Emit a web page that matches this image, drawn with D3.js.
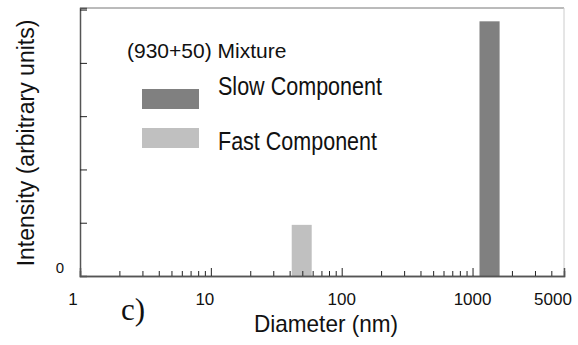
<!DOCTYPE html>
<html>
<head>
<meta charset="UTF-8">
<title>Mixture size distribution</title>
<script src="https://d3js.org/d3.v7.min.js"></script>
<style>
  body { margin: 0; background: #fff; }
  text { font-family: "Liberation Sans", Arial, Helvetica, sans-serif; fill: #111; }
</style>
</head>
<body>
<div id="chart"></div>
<script>
// data
var components = ["Slow Component", "Fast Component"];
var binLow  = [1130, 41.5];   // nm, lower edge of each bar
var binHigh = [1610, 59];     // nm, upper edge
var intensity = [4.78, 0.96]; // arbitrary units
var barColors = ["#808080", "#c0c0c0"];
var xTickValues = [1, 10, 100, 1000, 5000];
var xTickLabels = ["1", "10", "100", "1000", "5000"];
var yTickValues = [0, 1, 2, 3, 4, 5];
var title = "(930+50) Mixture";

var width = 578, height = 345;
var margin = {top: 8, right: 14, bottom: 69, left: 80};

var svg = d3.select("#chart").append("svg")
    .attr("width", width)
    .attr("height", height);

var x = d3.scaleLog()
    .domain([1, 5000])
    .range([margin.left, width - margin.right]);
var y = d3.scaleLinear()
    .domain([0, 5.03])
    .range([height - margin.bottom, margin.top]);

// frame (top dark-ish, right light)
svg.append("line")
    .attr("x1", margin.left).attr("x2", width - margin.right)
    .attr("y1", margin.top).attr("y2", margin.top)
    .attr("stroke", "#777").attr("stroke-width", 1);
svg.append("line")
    .attr("x1", width - margin.right).attr("x2", width - margin.right)
    .attr("y1", margin.top).attr("y2", height - margin.bottom)
    .attr("stroke", "#ccc").attr("stroke-width", 1);

// bars
svg.append("g").selectAll("rect")
    .data(components)
    .enter().append("rect")
    .attr("x", function(d, i) { return x(binLow[i]); })
    .attr("width", function(d, i) { return x(binHigh[i]) - x(binLow[i]); })
    .attr("y", function(d, i) { return y(intensity[i]); })
    .attr("height", function(d, i) { return y(0) - y(intensity[i]); })
    .attr("fill", function(d, i) { return barColors[i]; });

// x axis: minor ticks, major ticks, labels
var minor = [];
[1, 10, 100, 1000].forEach(function(dec) {
    for (var k = 2; k <= 9; k++) if (dec * k <= 5000) minor.push(dec * k);
});
var xMinor = d3.axisBottom(x).tickValues(minor).tickSize(-5).tickFormat("");
var xMajor = d3.axisBottom(x).tickValues([10, 100, 1000]).tickSize(-8).tickFormat("");

var gx = svg.append("g")
    .attr("transform", "translate(0," + (height - margin.bottom) + ")");
gx.call(xMinor);
gx.append("g").call(xMajor);
gx.selectAll(".domain").attr("stroke", "#555").attr("stroke-width", 1.5);
gx.selectAll(".tick line").attr("stroke", "#222").attr("stroke-width", 1);

var labelShift = {"1": -7, "10": -6, "100": 0, "1000": 0, "5000": -11};
svg.append("g").selectAll("text")
    .data(xTickValues)
    .enter().append("text")
    .attr("x", function(d) { return x(d) + labelShift[String(d)]; })
    .attr("y", 305)
    .attr("text-anchor", "middle")
    .style("font-size", "17px")
    .text(function(d, i) { return xTickLabels[i]; });

// y axis
var yAxis = d3.axisLeft(y).tickValues(yTickValues.slice(1)).tickSize(-7).tickFormat("");
var gy = svg.append("g")
    .attr("transform", "translate(" + margin.left + ",0)")
    .call(yAxis);
gy.selectAll(".domain").attr("stroke", "#555").attr("stroke-width", 1.5);
gy.selectAll(".tick line").attr("stroke", "#222");
svg.append("text")
    .attr("x", 60).attr("y", y(0) - 3)
    .attr("text-anchor", "middle")
    .style("font-size", "15px")
    .text("0");

// axis titles
svg.append("text")
    .attr("transform", "translate(34," + 143 + ") rotate(-90)")
    .attr("text-anchor", "middle")
    .style("font-size", "23px")
    .text("Intensity (arbitrary units)");
// condensed look of the original: squeeze a bigger font to the measured width
svg.append("text")
    .attr("x", 254).attr("y", 332)
    .attr("textLength", 144)
    .attr("lengthAdjust", "spacingAndGlyphs")
    .style("font-size", "24px")
    .text("Diameter  (nm)");
svg.append("text")
    .attr("x", 121).attr("y", 320)
    .style("font-family", "'Liberation Serif', 'Times New Roman', serif")
    .style("font-size", "31px")
    .text("c)");

// legend
svg.append("text")
    .attr("x", 127).attr("y", 58)
    .style("font-size", "21px")
    .text(title);
var legend = svg.append("g").selectAll("g")
    .data(components)
    .enter().append("g");
var swatchY = [89, 128];
var labelY = [95, 150];
var labelLen = [164, 159];
legend.append("rect")
    .attr("x", 142).attr("width", 57)
    .attr("y", function(d, i) { return swatchY[i]; })
    .attr("height", 20)
    .attr("fill", function(d, i) { return barColors[i]; });
legend.append("text")
    .attr("x", 218)
    .attr("y", function(d, i) { return labelY[i]; })
    .attr("textLength", function(d, i) { return labelLen[i]; })
    .attr("lengthAdjust", "spacingAndGlyphs")
    .style("font-size", "25px")
    .text(function(d) { return d; });
</script>
</body>
</html>
